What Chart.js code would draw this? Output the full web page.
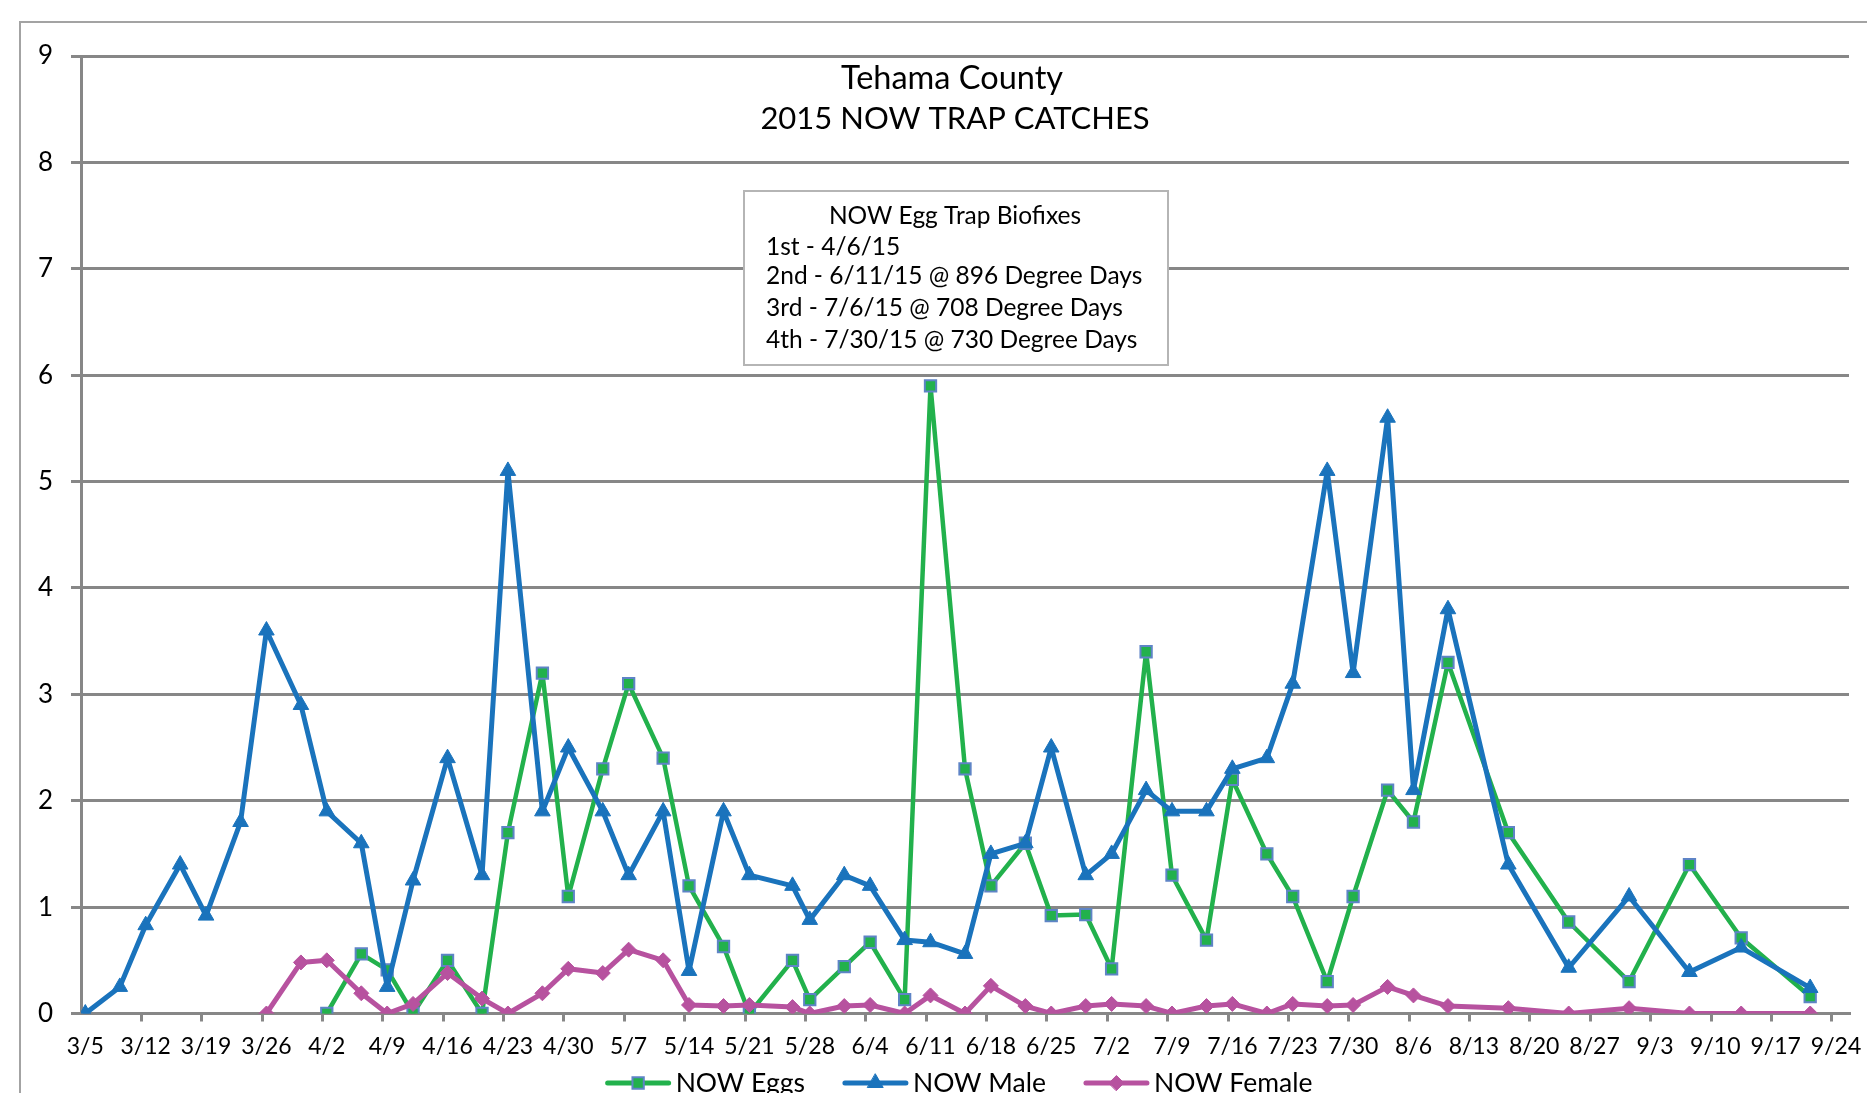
<!DOCTYPE html>
<html>
<head>
<meta charset="utf-8">
<title>Tehama County 2015 NOW Trap Catches</title>
<script src="https://cdn.jsdelivr.net/npm/chart.js@4.4.1/dist/chart.umd.min.js"></script>
<style>
  html, body { margin: 0; padding: 0; background: #fff; }
  #wrap { width: 1867px; height: 1093px; position: relative; overflow: hidden; }
</style>
</head>
<body>
<div id="wrap"><canvas id="trapChart"></canvas></div>
<script>
// sample dates (2015) and trap counts
const sampleDates = ['3/5','3/9','3/12','3/16','3/19','3/23','3/26','3/30',
  '4/2','4/6','4/9','4/12','4/16','4/20','4/23','4/27','4/30',
  '5/4','5/7','5/11','5/14','5/18','5/21','5/26','5/28',
  '6/1','6/4','6/8','6/11','6/15','6/18','6/22','6/25','6/29',
  '7/2','7/6','7/9','7/13','7/16','7/20','7/23','7/27','7/30',
  '8/3','8/6','8/10','8/17','8/24','8/31',
  '9/7','9/13','9/21'];

const eggs = [null, null, null, null, null, null, null, null,
  0, 0.56, 0.41, 0, 0.5, 0, 1.7, 3.2, 1.1,
  2.3, 3.1, 2.4, 1.2, 0.63, 0, 0.5, 0.13,
  0.44, 0.67, 0.13, 5.9, 2.3, 1.2, 1.6, 0.92, 0.93,
  0.42, 3.4, 1.3, 0.69, 2.2, 1.5, 1.1, 0.3, 1.1,
  2.1, 1.8, 3.3, 1.7, 0.86, 0.3,
  1.4, 0.71, 0.16];

const males = [0, 0.25, 0.83, 1.4, 0.92, 1.8, 3.6, 2.9,
  1.9, 1.6, 0.25, 1.25, 2.4, 1.3, 5.1, 1.9, 2.5,
  1.9, 1.3, 1.9, 0.4, 1.9, 1.3, 1.2, 0.88,
  1.3, 1.2, 0.69, 0.67, 0.56, 1.5, 1.6, 2.5, 1.3,
  1.5, 2.1, 1.9, 1.9, 2.3, 2.4, 3.1, 5.1, 3.2,
  5.6, 2.1, 3.8, 1.4, 0.43, 1.1,
  0.39, 0.62, 0.24];

const females = [null, null, null, null, null, null, 0, 0.48,
  0.5, 0.19, 0, 0.09, 0.38, 0.14, 0, 0.19, 0.42,
  0.38, 0.6, 0.5, 0.08, 0.07, 0.08, 0.06, 0,
  0.07, 0.08, 0, 0.17, 0, 0.26, 0.07, 0, 0.07,
  0.09, 0.07, 0, 0.07, 0.09, 0, 0.09, 0.07, 0.08,
  0.25, 0.17, 0.07, 0.05, 0, 0.05,
  0, 0, 0];

const weekLabels = ['3/5','3/12','3/19','3/26','4/2','4/9','4/16','4/23','4/30',
  '5/7','5/14','5/21','5/28','6/4','6/11','6/18','6/25','7/2','7/9','7/16',
  '7/23','7/30','8/6','8/13','8/20','8/27','9/3','9/10','9/17','9/24'];

const yTicks = [0, 1, 2, 3, 4, 5, 6, 7, 8, 9];

const chartTitle = ['Tehama County', '2015 NOW TRAP CATCHES'];
const biofixHeading = 'NOW Egg Trap Biofixes';
const biofixLines = ['1st - 4/6/15',
  '2nd - 6/11/15 @ 896 Degree Days',
  '3rd - 7/6/15 @ 708 Degree Days',
  '4th - 7/30/15 @ 730 Degree Days'];

const FONT = 'Lato, "Open Sans", sans-serif';
const GRID = '#878787';
const GREEN = '#22B14C';
const BLUE = '#1A73BC';
const PINK = '#B7529F';

// days since 3/5, so the x axis can be a plain linear scale
function dayOf(md) {
  const [m, d] = md.split('/').map(Number);
  return (Date.UTC(2015, m - 1, d) - Date.UTC(2015, 2, 5)) / 86400000;
}
const toPoints = vals => sampleDates.map((d, i) => ({ x: dayOf(d), y: vals[i] }));
const labelAt = {};
weekLabels.forEach(l => { labelAt[dayOf(l)] = l; });

const decor = {
  id: 'decor',
  beforeDraw(chart) {
    const c = chart.ctx;
    c.save();
    c.strokeStyle = '#a3a3a3';
    c.lineWidth = 2;
    c.beginPath();
    c.moveTo(20, chart.height);
    c.lineTo(20, 22);
    c.lineTo(chart.width, 22);
    c.stroke();
    c.restore();
  },
  afterDraw(chart) {
    const c = chart.ctx;
    c.save();
    c.fillStyle = '#000';
    c.textBaseline = 'alphabetic';

    // title
    c.textAlign = 'center';
    c.font = '32.5px ' + FONT;
    c.fillText(chartTitle[0], 952, 89);
    c.font = '31px ' + FONT;
    c.fillText(chartTitle[1], 955, 129);

    // biofix note box
    c.fillStyle = '#fff';
    c.fillRect(744, 191, 424, 174);
    c.strokeStyle = '#b5b5b5';
    c.lineWidth = 2;
    c.strokeRect(744, 191, 424, 174);
    c.fillStyle = '#000';
    c.font = '24.5px ' + FONT;
    c.fillText(biofixHeading, 955, 224);
    c.textAlign = 'left';
    const ys = [255, 284, 316, 348];
    biofixLines.forEach((t, i) => c.fillText(t, 766, ys[i]));

    // legend: line with marker, then name
    c.font = '26.5px ' + FONT;
    const items = chart.data.datasets;
    const lineLen = 61, gapText = 7, gapItem = 40;
    const widths = items.map(ds => lineLen + gapText + c.measureText(ds.label).width);
    const total = widths.reduce((a, b) => a + b, 0) + gapItem * (items.length - 1);
    let x = 960 - total / 2;
    const ly = 1083;
    items.forEach((ds, i) => {
      c.strokeStyle = ds.borderColor;
      c.lineWidth = 5;
      c.lineCap = 'round';
      c.beginPath();
      c.moveTo(x, ly);
      c.lineTo(x + lineLen, ly);
      c.stroke();
      c.fillStyle = ds.pointBackgroundColor;
      c.strokeStyle = ds.pointBorderColor;
      c.lineWidth = ds.pointBorderWidth;
      Chart.helpers.drawPoint(c, { pointStyle: ds.pointStyle, radius: ds.pointRadius, rotation: 0, borderWidth: ds.pointBorderWidth }, x + lineLen / 2, ly);
      c.fillStyle = '#000';
      c.textAlign = 'left';
      c.fillText(ds.label, x + lineLen + gapText, 1092);
      x += widths[i] + gapItem;
    });
    c.restore();
  }
};

new Chart(document.getElementById('trapChart'), {
  type: 'line',
  data: {
    datasets: [{
      label: 'NOW Eggs',
      data: toPoints(eggs),
      borderColor: GREEN,
      borderWidth: 4.5,
      pointStyle: 'rect',
      pointRadius: 8,
      pointBackgroundColor: GREEN,
      pointBorderColor: '#5E84C6',
      pointBorderWidth: 2,
      order: 3
    }, {
      label: 'NOW Male',
      data: toPoints(males),
      borderColor: BLUE,
      borderWidth: 5,
      pointStyle: 'triangle',
      pointRadius: 9,
      pointBackgroundColor: BLUE,
      pointBorderColor: BLUE,
      pointBorderWidth: 1,
      order: 2
    }, {
      label: 'NOW Female',
      data: toPoints(females),
      borderColor: PINK,
      borderWidth: 5,
      pointStyle: 'rectRot',
      pointRadius: 7.5,
      pointBackgroundColor: PINK,
      pointBorderColor: PINK,
      pointBorderWidth: 1,
      order: 1
    }]
  },
  options: {
    responsive: true,
    maintainAspectRatio: false,
    animation: false,
    layout: { padding: { top: 56, right: 18, bottom: 0, left: 0 } },
    elements: { line: { tension: 0, borderJoinStyle: 'round', borderCapStyle: 'round' } },
    plugins: {
      legend: { display: false },
      tooltip: { enabled: false }
    },
    scales: {
      x: {
        type: 'linear',
        min: -0.5,
        max: 204.5,
        afterBuildTicks: scale => {
          const t = [];
          weekLabels.forEach(l => {
            const d = dayOf(l);
            if (d > 0) t.push({ value: d - 0.5 });
            t.push({ value: d });
          });
          scale.ticks = t;
        },
        afterFit: scale => {
          scale.height = 79.5;
          scale.paddingLeft = 0;
          scale.paddingRight = 0;
        },
        ticks: {
          autoSkip: false,
          maxRotation: 0,
          padding: 11,
          color: '#000',
          font: { family: FONT, size: 23 },
          callback: v => labelAt[v] || ''
        },
        grid: {
          drawOnChartArea: false,
          tickLength: 8,
          lineWidth: 3,
          tickColor: ctx => (ctx.tick && labelAt[ctx.tick.value] !== undefined) ? 'rgba(0,0,0,0)' : GRID
        },
        border: { display: true, color: GRID, width: 3 }
      },
      y: {
        min: 0,
        max: 9,
        afterBuildTicks: scale => { scale.ticks = yTicks.map(v => ({ value: v })); },
        afterFit: scale => { scale.width = 81; },
        ticks: {
          padding: 18,
          color: '#000',
          font: { family: FONT, size: 26 }
        },
        grid: { color: GRID, lineWidth: 3, tickLength: 10 },
        border: { display: true, color: GRID, width: 3 }
      }
    }
  },
  plugins: [decor]
});
</script>
</body>
</html>
